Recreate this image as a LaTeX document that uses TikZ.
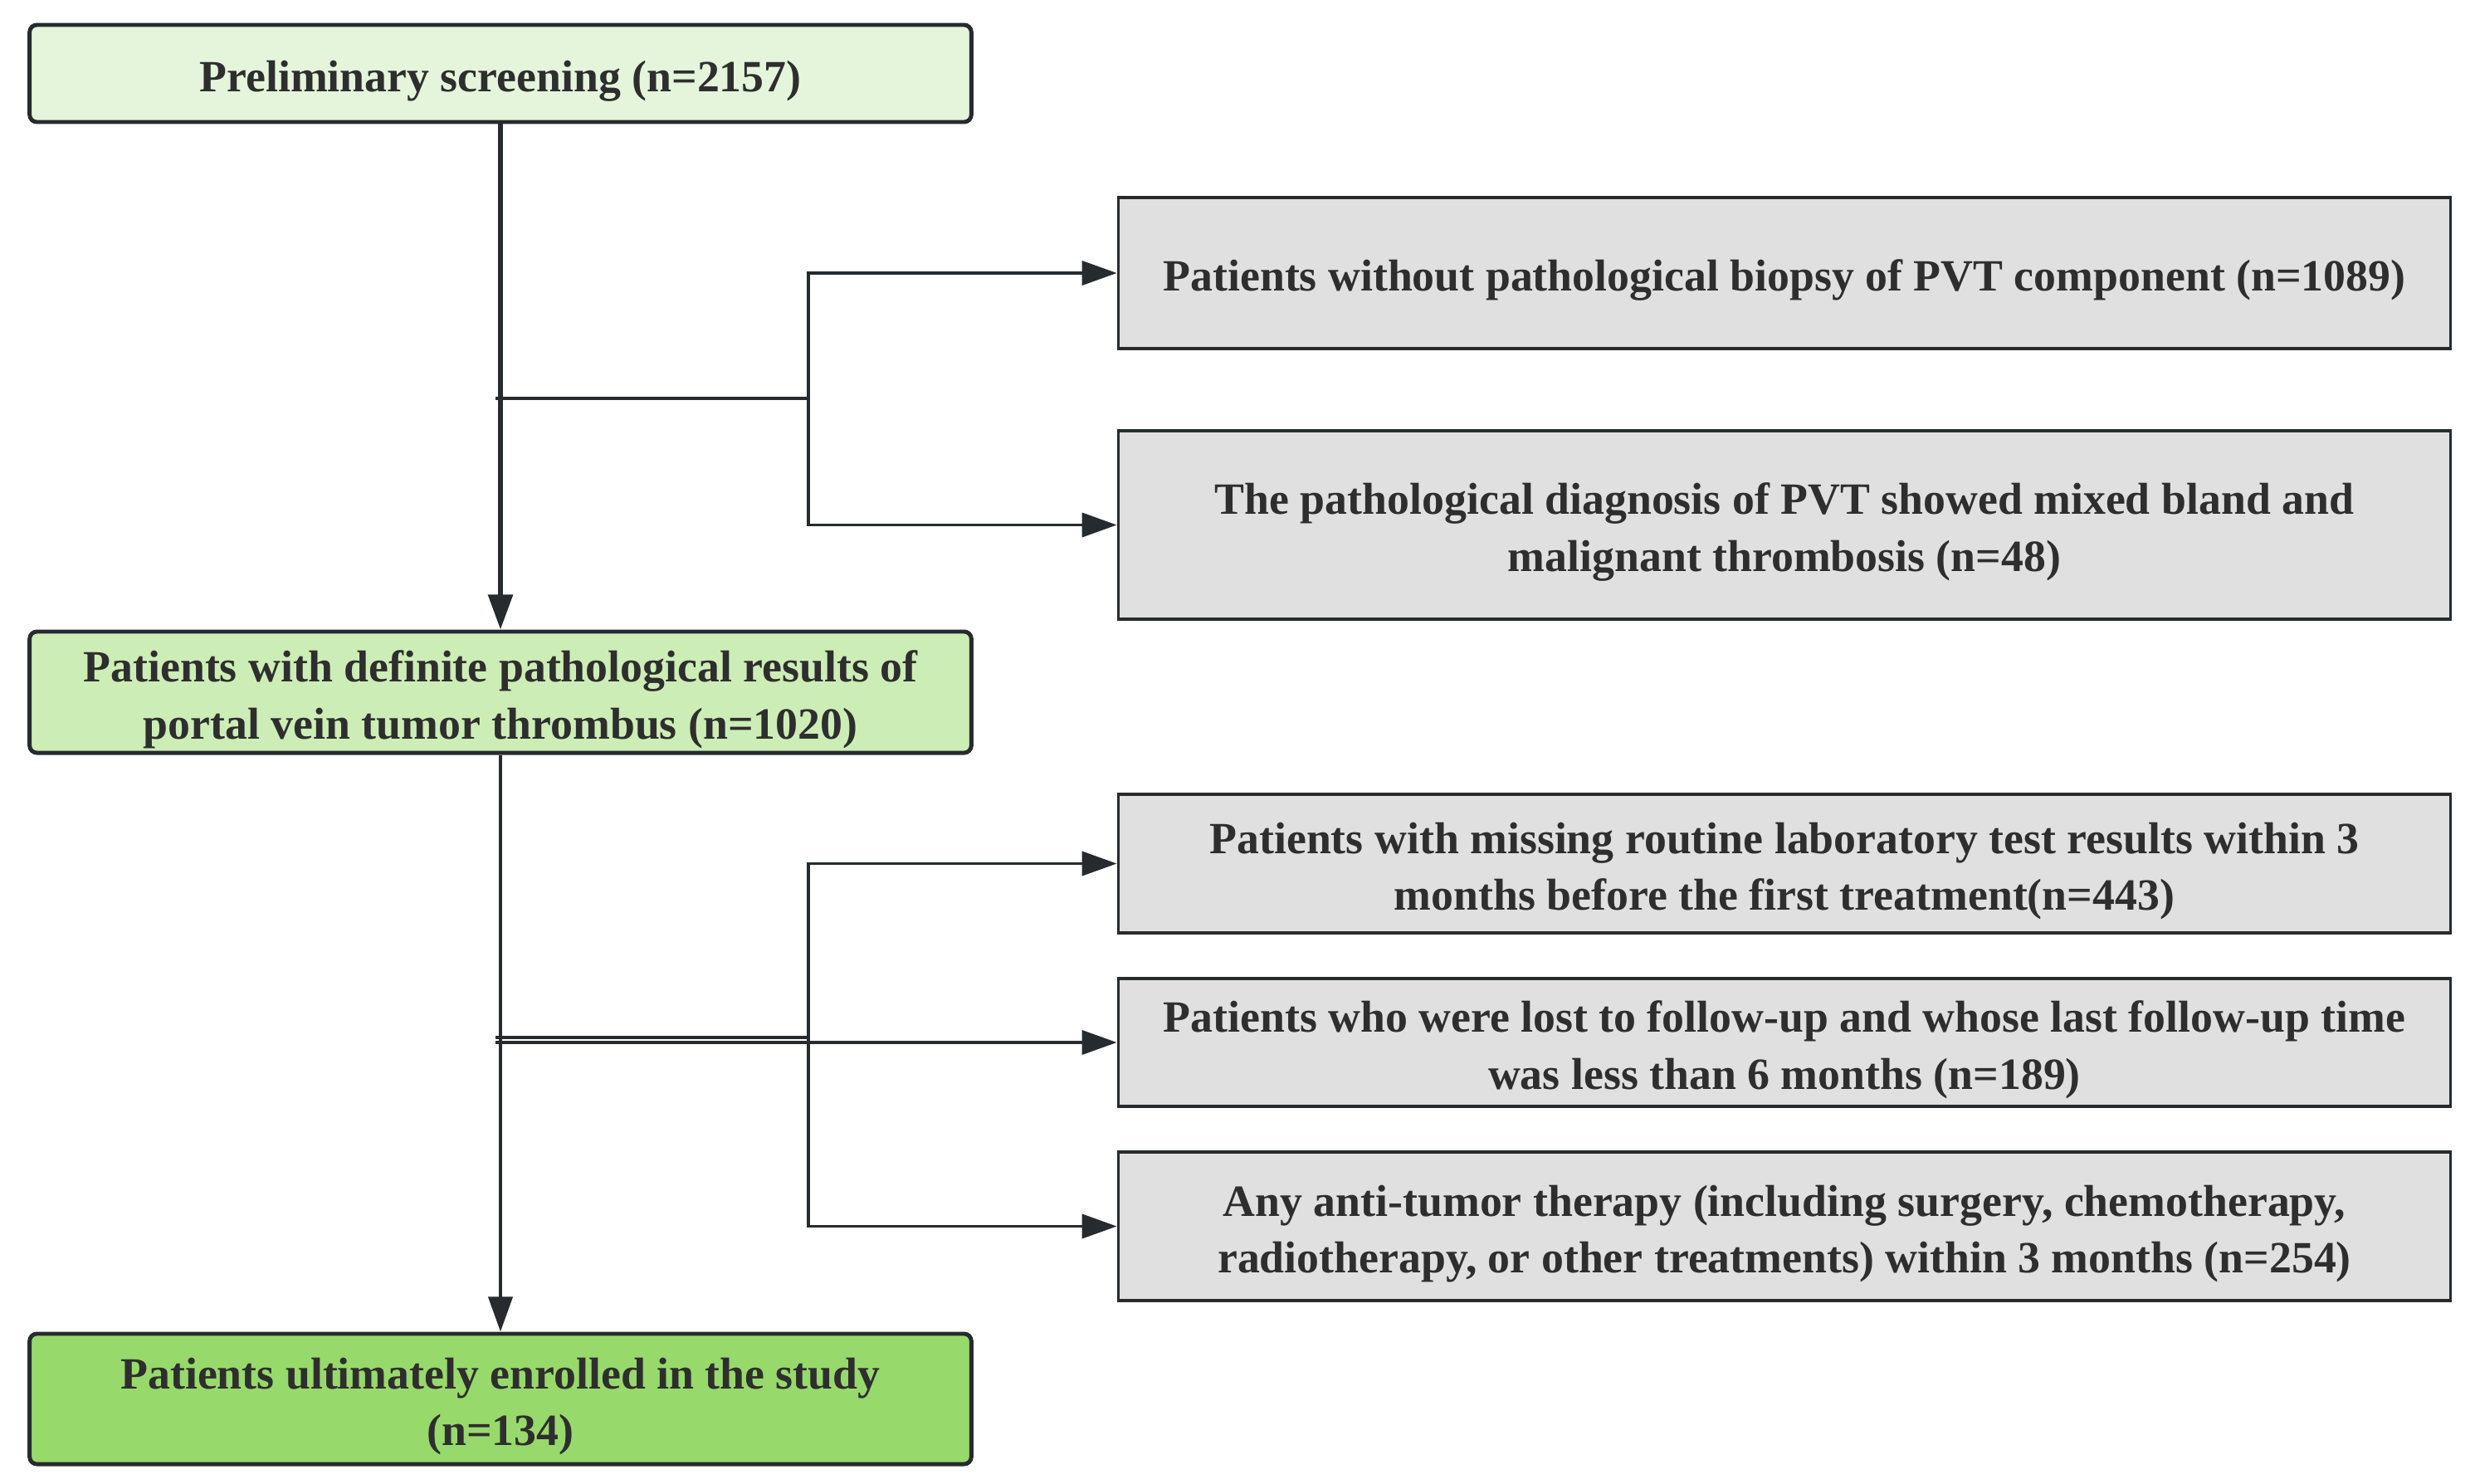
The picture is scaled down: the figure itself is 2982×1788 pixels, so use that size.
\documentclass[tikz,border=0pt]{standalone}
\usepackage{fontspec}
\setmainfont{Liberation Serif}
\usetikzlibrary{arrows.meta}
\definecolor{pvtline}{HTML}{262B2F}
\definecolor{pvttext}{HTML}{2E2E2E}
\definecolor{pvtgrey}{HTML}{E0E0E0}
\definecolor{pvtgreenA}{HTML}{E4F5DB}
\definecolor{pvtgreenB}{HTML}{CDEDB6}
\definecolor{pvtgreenC}{HTML}{98D96B}
\newcommand{\pvtstrut}{\rule{0pt}{15.7pt}}
\tikzset{
  pvt box/.style={
    draw=pvtline,text=pvttext,inner sep=0pt,align=center,
    font=\fontsize{15.3}{19.5}\selectfont\bfseries
  },
  pvt main/.style={pvt box,line width=1.4pt,rounded corners=2.5pt,minimum width=11.34cm},
  pvt excl/.style={pvt box,fill=pvtgrey,line width=1.1pt,minimum width=16.04cm},
  pvt edge/.style={pvtline,line width=1.1pt},
  pvt arrow/.style={pvt edge,-{Triangle[length=0.42cm,width=0.29cm]}}
}

\begin{document}
\begin{tikzpicture}[x=0.01cm,y=-0.01cm]
  \useasboundingbox (0,0) rectangle (2982,1788);
  \node[pvt main,fill=pvtgreenA,minimum height=1.17cm] (screen) at (603,88.5)
    {\pvtstrut Preliminary screening (n=2157)};
  \node[pvt main,fill=pvtgreenB,minimum height=1.46cm] (definite) at (603,834)
    {\pvtstrut Patients with definite pathological results of\\portal vein tumor thrombus (n=1020)};
  \node[pvt main,fill=pvtgreenC,minimum height=1.57cm] (enrolled) at (603,1685.5)
    {\pvtstrut Patients ultimately enrolled in the study\\(n=134)};
  \node[pvt excl,minimum height=1.82cm] (nobiopsy) at (2150,329)
    {\pvtstrut Patients without pathological biopsy of PVT component (n=1089)};
  \node[pvt excl,minimum height=2.27cm] (mixed) at (2150,632.5)
    {\pvtstrut The pathological diagnosis of PVT showed mixed bland and\\malignant thrombosis (n=48)};
  \node[pvt excl,minimum height=1.67cm] (missing) at (2150,1040.5)
    {\pvtstrut Patients with missing routine laboratory test results within 3\\months before the first treatment(n=443)};
  \node[pvt excl,minimum height=1.54cm] (lost) at (2150,1256)
    {\pvtstrut Patients who were lost to follow-up and whose last follow-up time\\was less than 6 months (n=189)};
  \node[pvt excl,minimum height=1.79cm] (antitumor) at (2150,1477.5)
    {\pvtstrut Any anti-tumor therapy (including surgery, chemotherapy,\\radiotherapy, or other treatments) within 3 months (n=254)};
  \coordinate (split1) at (597,480);
  \coordinate (fork1) at (974,480);
  \coordinate (split2) at (597,1250);
  \coordinate (fork2) at (974,1250);
  \coordinate (split2b) at (597,1256);
  \draw[pvt arrow,line width=1.6pt] (screen) -- (definite);
  \draw[pvt edge] (split1) -- (fork1);
  \draw[pvt arrow] (fork1) |- (nobiopsy.west);
  \draw[pvt arrow] (fork1) |- (mixed.west);
  \draw[pvt arrow] (definite) -- (enrolled);
  \draw[pvt edge] (split2) -- (fork2);
  \draw[pvt arrow] (fork2) |- (missing.west);
  \draw[pvt arrow] (split2b) -- (lost.west);
  \draw[pvt arrow] (fork2) |- (antitumor.west);
\end{tikzpicture}
\end{document}
